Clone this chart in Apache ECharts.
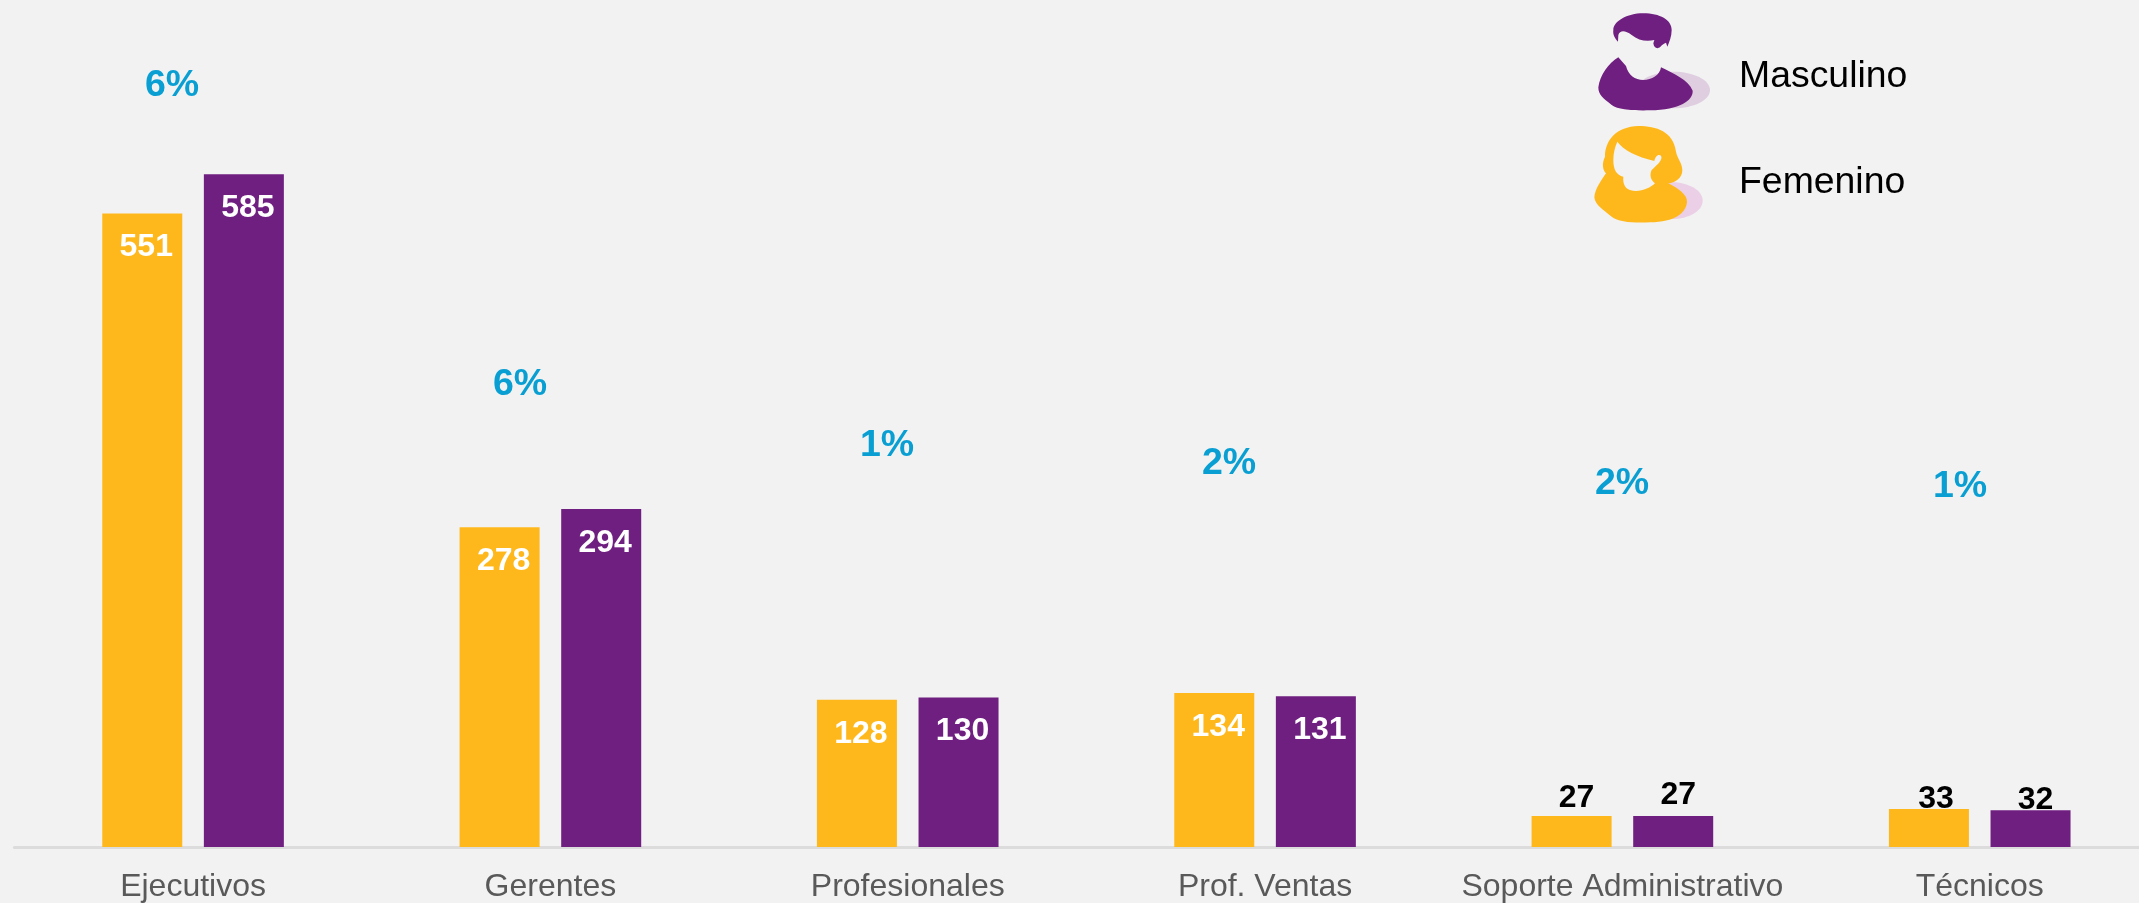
<!DOCTYPE html>
<html><head><meta charset="utf-8">
<style>html,body{margin:0;padding:0;background:#f2f2f2;overflow:hidden;width:2139px;height:903px}#c{width:2170px;height:903px}</style>
<script src="https://cdn.jsdelivr.net/npm/echarts@6/dist/echarts.min.js"></script>
</head><body><div id="c"></div>
<script>
const categories = ['Ejecutivos','Gerentes','Profesionales','Prof. Ventas','Soporte Administrativo','Técnicos'];
const femenino = [551,278,128,134,27,33];
const masculino = [585,294,130,131,27,32];
const gaps = ['6%','6%','1%','2%','2%','1%'];
const gapAnchors = [[172,86],[520,385],[887,446],[1229,464],[1622,484],[1960,487]];
const femOutsideDy = [0,0,0,0,3,11];
const masOutsideDy = [0,0,0,0,0,11];
const femOutsideDx = [0,0,0,0,5,7];
const masOutsideDx = [0,0,0,0,5,5];
const GOLD='#FFB81C', PURPLE='#6F1F7F', BG='#f2f2f2', FONT='"Liberation Sans", Arial, sans-serif';

const maleHair='M160 90C160 65 200 40 250 40C300 40 335 60 335 90C335 110 328 125 322 140L318 128C312 130 305 135 300 142C292 147 282 145 280 130L283 120C260 125 235 122 215 105C195 90 180 90 175 105L174 125C165 115 158 105 160 90Z';
const maleBody='M175 172L198 198C205 225 225 240 250 240C275 240 300 225 303 202C340 220 385 240 398 272C400 300 360 330 270 331C220 332 175 330 155 315C130 295 115 285 115 262C120 225 145 190 175 172Z';
const femBody='M235 378C290 378 340 395 348 455C352 475 367 490 367 510C367 535 345 548 325 550C355 565 382 585 381 605C378 640 345 665 270 667C220 670 175 665 155 650C130 630 105 615 103 592C105 565 125 540 138 520C128 510 125 490 135 470C135 420 170 380 235 378Z';
const femFace='M172 425C190 450 230 470 283 483C285 470 295 460 303 467C310 480 290 495 275 510C268 525 272 540 285 550C270 565 235 580 210 570C195 565 188 550 190 530C170 525 160 510 160 480C160 460 165 440 172 425Z';
[['maleHair',maleHair],['maleBody',maleBody],['femBody',femBody],['femFace',femFace]].forEach(([n,d])=>
  echarts.graphic.registerShape(n, echarts.graphic.extendPath(d,{})));

function barData(values,dx,dy){
  return values.map((v,i)=>{
    const inside = v>100;
    return {value:v,label:{show:true,position:inside?'insideTop':'top',distance:inside?18:2,
      offset:inside?[4,0]:[dx[i],dy[i]-3],
      color:inside?'#ffffff':'#000000',fontFamily:FONT,fontWeight:'bold',fontSize:32}};
  });
}
const chart=echarts.init(document.getElementById('c'),null,{renderer:'canvas'});
chart.setOption({
  animation:false,
  backgroundColor:BG,
  grid:{left:14.4,top:0,width:2144,height:849.5,containLabel:false},
  xAxis:{type:'category',data:categories,
    axisLine:{lineStyle:{color:'#dcdcdc',width:3}},axisTick:{show:false},
    axisLabel:{color:'#595959',fontFamily:FONT,fontSize:32,margin:24,interval:0}},
  yAxis:{type:'value',min:0,max:736.6,show:false,splitLine:{show:false}},
  series:[
    {name:'Femenino',type:'bar',data:barData(femenino,femOutsideDx,femOutsideDy),barWidth:80,barGap:'27%',itemStyle:{color:GOLD}},
    {name:'Masculino',type:'bar',data:barData(masculino,masOutsideDx,masOutsideDy),barWidth:80,barGap:'27%',itemStyle:{color:PURPLE}}
  ],
  graphic:[
    ...gaps.map((t,i)=>({type:'text',x:gapAnchors[i][0],y:gapAnchors[i][1],
      style:{text:t,fill:'#0A9FD3',font:'bold 37.5px '+FONT,textAlign:'center',textVerticalAlign:'middle'}})),
    {type:'group',x:1560,y:0,scaleX:1/3,scaleY:1/3,children:[
      {type:'ellipse',shape:{cx:340,cy:270,rx:110,ry:55},style:{fill:'#dfcde0'}},
      {type:'maleBody',shape:{},style:{fill:PURPLE}},
      {type:'maleHair',shape:{},style:{fill:PURPLE}},
      {type:'ellipse',shape:{cx:335,cy:602,rx:93,ry:55},style:{fill:'#ebcfe6'}},
      {type:'femBody',shape:{},style:{fill:GOLD}},
      {type:'femFace',shape:{},style:{fill:BG}}
    ]},
    {type:'text',x:1739,y:77,style:{text:'Masculino',fill:'#000',font:'37.4px '+FONT,textAlign:'left',textVerticalAlign:'middle'}},
    {type:'text',x:1739,y:183,style:{text:'Femenino',fill:'#000',font:'37.4px '+FONT,textAlign:'left',textVerticalAlign:'middle'}}
  ]
});
</script></body></html>
